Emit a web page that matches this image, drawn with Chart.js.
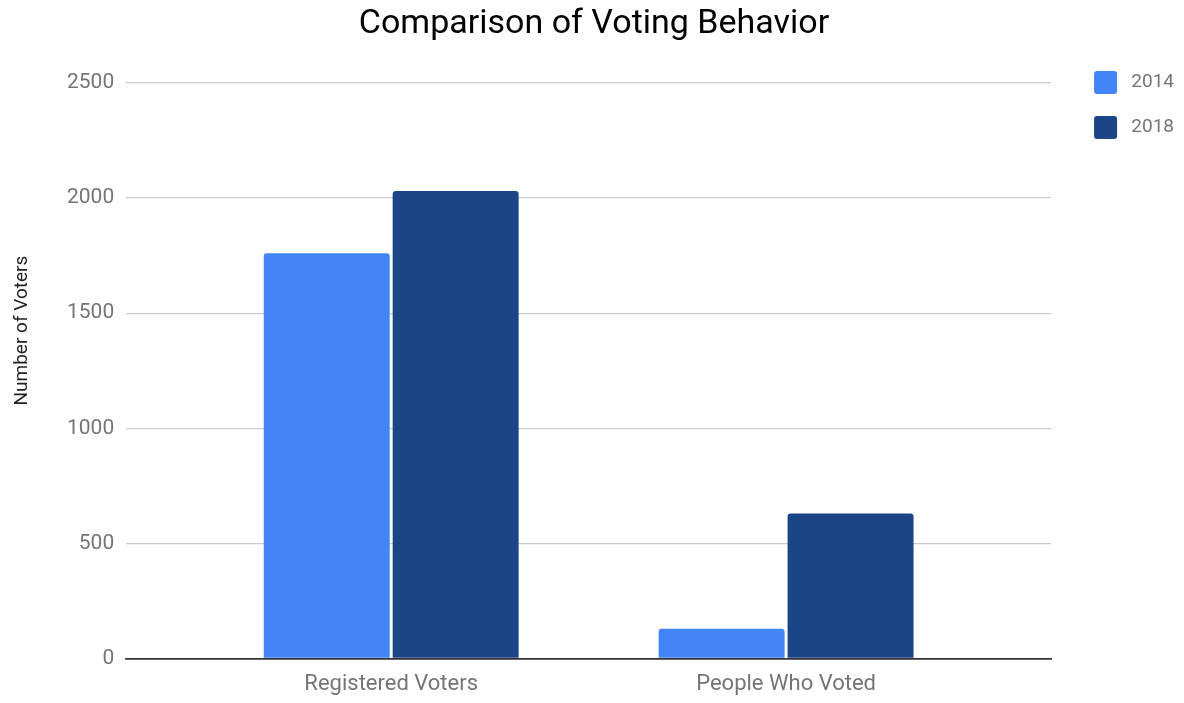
<!DOCTYPE html>
<html>
<head>
<meta charset="utf-8">
<script src="https://cdn.jsdelivr.net/npm/chart.js@4.4.1/dist/chart.umd.min.js"></script>
<style>
  html, body { margin: 0; padding: 0; background: #fff; }
  #wrap { width: 1184px; height: 703px; }
</style>
</head>
<body>
<div id="wrap"><canvas id="chart"></canvas></div>
<script>
var categories = ['Registered Voters', 'People Who Voted'];
var seriesNames = ['2014', '2018'];
var values2014 = [1760, 130];
var values2018 = [2030, 630];
var yTicks = [0, 500, 1000, 1500, 2000, 2500];

var font = 'Roboto';
var grey = '#757575';

function points(vals) {
  return vals.map(function (v, i) { return { x: i, y: v }; });
}

var ctx = document.getElementById('chart').getContext('2d');
var myChart = new Chart(ctx, {
  type: 'bar',
  data: {
    datasets: [{
      label: seriesNames[0],
      data: points(values2014),
      backgroundColor: '#4285f4',
      borderRadius: 3,
      borderSkipped: 'bottom',
      categoryPercentage: 0.653,
      barPercentage: 0.977
    }, {
      label: seriesNames[1],
      data: points(values2018),
      backgroundColor: '#1c4587',
      borderRadius: 3,
      borderSkipped: 'bottom',
      categoryPercentage: 0.653,
      barPercentage: 0.977
    }]
  },
  options: {
    responsive: true,
    maintainAspectRatio: false,
    animation: false,
    layout: { padding: { left: 4, right: 0, top: 0, bottom: -8 } },
    plugins: {
      title: {
        display: true,
        text: 'Comparison of Voting Behavior',
        color: '#000',
        font: { family: font, size: 34, weight: 'normal' },
        padding: { top: 4, bottom: 4 }
      },
      legend: {
        position: 'right',
        align: 'start',
        title: {
          display: true,
          text: ' ',
          font: { size: 10 },
          padding: { top: 37, bottom: 0 }
        },
        labels: {
          boxWidth: 23,
          boxHeight: 23,
          padding: 22,
          color: grey,
          useBorderRadius: true,
          borderRadius: 3,
          font: { family: font, size: 19 },
          generateLabels: function (chart) {
            var items = Chart.defaults.plugins.legend.labels.generateLabels(chart);
            items.forEach(function (it) { it.text = ' ' + it.text; });
            return items;
          }
        }
      },
      tooltip: { enabled: false }
    },
    scales: {
      x: {
        type: 'linear',
        offset: false,
        min: -0.671,
        max: 1.671,
        afterBuildTicks: function (axis) {
          axis.ticks = categories.map(function (c, i) { return { value: i }; });
        },
        ticks: {
          color: grey,
          padding: 13,
          maxRotation: 0,
          minRotation: 0,
          autoSkip: false,
          font: { family: font, size: 22 },
          callback: function (v) { return categories[v]; }
        },
        grid: { display: false, drawTicks: false },
        border: { display: true, color: '#333', width: 1.5 }
      },
      xTop: {
        type: 'linear',
        position: 'top',
        display: true,
        ticks: { display: false },
        grid: { display: false },
        border: { display: false },
        afterFit: function (s) { s.height = 34; }
      },
      y: {
        min: 0,
        max: 2500,
        afterBuildTicks: function (axis) {
          axis.ticks = yTicks.map(function (v) { return { value: v }; });
        },
        ticks: {
          color: grey,
          padding: 12,
          font: { family: font, size: 21 },
          callback: function (v) { return String(v); }
        },
        grid: {
          drawTicks: false,
          color: function (c) { return c.tick && c.tick.value === 0 ? '#333' : '#cccccc'; },
          lineWidth: function (c) { return c.tick && c.tick.value === 0 ? 1.5 : 1.2; }
        },
        border: { display: false },
        title: {
          display: true,
          // leading spaces lift the label a little above the axis middle, as in the original
          text: '                 Number of Voters',
          color: '#222',
          font: { family: font, size: 19 },
          padding: { top: 6.6, bottom: 21.6 }
        }
      },
      yRight: {
        type: 'linear',
        position: 'right',
        display: true,
        ticks: { display: false },
        grid: { display: false },
        border: { display: false },
        afterFit: function (s) { s.width = 21; }
      }
    }
  }
});
</script>
</body>
</html>
